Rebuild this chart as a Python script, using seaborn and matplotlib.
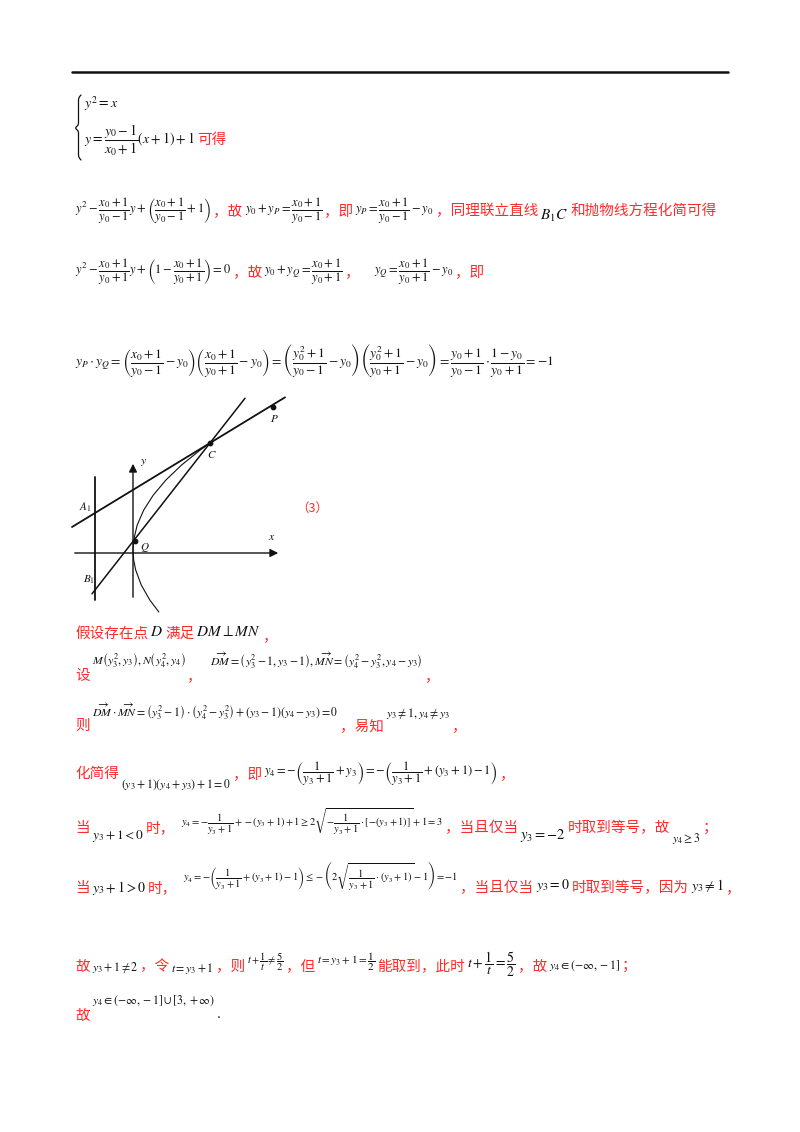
import matplotlib
matplotlib.use("Agg")
import matplotlib.pyplot as plt
import seaborn as sns
import numpy as np
import pandas as pd

sns.set_theme(style="white")
plt.rcParams['font.family'] = ['Noto Sans CJK SC', 'DejaVu Sans']
plt.rcParams['mathtext.fontset'] = 'stix'

RED = '#ff2a2a'
BLK = '#111111'

# diagram points (page pixel coordinates)
pt_names = ['A_1', 'B_1', 'Q', 'C', 'P']
pt_x = [95, 95, 135, 210, 273]
pt_y = [513, 590, 541, 443, 407]
par_y = [612, 600, 585, 570, 560, 550, 540, 525, 510, 495, 480, 465, 450, 443]

fig = plt.figure(figsize=(8, 11.32), dpi=100)
ax = fig.add_axes([0, 0, 1, 1])
ax.set_xlim(0, 800)
ax.set_ylim(1132, 0)
ax.axis('off')
renderer = fig.canvas.get_renderer()

ax.plot([72, 728], [72, 72], color=BLK, lw=1.8)

CS = 10.5


def put(x, y, s, kind, size):
    if kind == 'm':
        t = ax.text(x, y, s, color=BLK, fontsize=size, ha='left', va='center',
                    fontfamily='serif')
    else:
        t = ax.text(x, y, s, color=RED, fontsize=size, ha='left', va='center')
    return t


def line(x0, y0, segs):
    x = x0
    for seg in segs:
        kind, s = seg[0], seg[1]
        dy = seg[2] if len(seg) > 2 else 0
        size = seg[3] if len(seg) > 3 else (9 if kind == 'm' else CS)
        gap = seg[4] if len(seg) > 4 else 2
        t = put(x, y0 + dy, s, kind, size)
        bb = t.get_window_extent(renderer)
        x = x + bb.width + gap


# block 1: left brace drawn as a smooth path
tt = np.linspace(0, 1, 60)
by = 95 + 65 * tt
bx = 78.5 - 1.8 * np.exp(-((by - 128) / 2.2) ** 2) * 1.6
bx = np.where(by < 128, bx, bx)
end_top = np.clip((100 - by) / 5, 0, 1)
end_bot = np.clip((by - 155) / 5, 0, 1)
bx = bx + 2.5 * end_top ** 2 + 2.5 * end_bot ** 2
ax.plot(bx, by, color=BLK, lw=0.9)
line(84, 104, [('m', r'$y^2=x$', 0, 10)])
line(84, 140, [('m', r'$y=\dfrac{y_0-1}{x_0+1}\left(x+1\right)+1$', 0, 10), ('c', '可得')])

line(75, 211, [('m', r'$y^2-\dfrac{x_0+1}{y_0-1}y+\left(\dfrac{x_0+1}{y_0-1}+1\right)$'),
               ('c', '，故'), ('m', r'$y_0+y_P=\dfrac{x_0+1}{y_0-1}$'),
               ('c', '，即'), ('m', r'$y_P=\dfrac{x_0+1}{y_0-1}-y_0$'),
               ('c', '，同理联立直线'), ('m', r'$B_1C$', 5, 11), ('c', '和抛物线方程化简可得')])

line(75, 272, [('m', r'$y^2-\dfrac{x_0+1}{y_0+1}y+\left(1-\dfrac{x_0+1}{y_0+1}\right)=0$'),
               ('c', '，故'), ('m', r'$y_0+y_Q=\dfrac{x_0+1}{y_0+1}$'),
               ('c', '，', 0, CS, 14), ('m', r'$y_Q=\dfrac{x_0+1}{y_0+1}-y_0$'),
               ('c', '，即')])

line(75, 361, [('m', r'$y_P\cdot y_Q=\left(\dfrac{x_0+1}{y_0-1}-y_0\right)\left(\dfrac{x_0+1}{y_0+1}-y_0\right)'
                     r'=\left(\dfrac{y_0^2+1}{y_0-1}-y_0\right)\left(\dfrac{y_0^2+1}{y_0+1}-y_0\right)'
                     r'=\dfrac{y_0+1}{y_0-1}\cdot\dfrac{1-y_0}{y_0+1}=-1$', 0, 9.7)])

# diagram
k = 77 / 107 ** 2
py = np.array(par_y, dtype=float)
df = pd.DataFrame({'x': 133 + k * (550 - py) ** 2, 'y': py})
sns.lineplot(data=df, x='x', y='y', ax=ax, sort=False, color=BLK, lw=0.8, estimator=None)
sA = (pt_y[3] - pt_y[0]) / (pt_x[3] - pt_x[0])
ax.plot([72, 285], [pt_y[0] + sA * (72 - pt_x[0]), pt_y[0] + sA * (285 - pt_x[0])], color=BLK, lw=1.3)
sB = (pt_y[3] - pt_y[1]) / (pt_x[3] - pt_x[1])
ax.plot([92, 245], [pt_y[1] + sB * (92 - pt_x[1]), pt_y[1] + sB * (245 - pt_x[1])], color=BLK, lw=1.1)
ax.plot([95, 95], [477, 600], color=BLK, lw=1.3)
ax.annotate('', xy=(133, 461), xytext=(133, 600),
            arrowprops=dict(arrowstyle='-|>', color=BLK, lw=1.0, mutation_scale=12))
ax.annotate('', xy=(281, 553), xytext=(72, 553),
            arrowprops=dict(arrowstyle='-|>', color=BLK, lw=1.0, mutation_scale=12))
ax.scatter([pt_x[2], pt_x[3], pt_x[4]], [pt_y[2], pt_y[3], pt_y[4]], s=10, color=BLK, zorder=5)
lab_off = {'A_1': (-16, -6), 'B_1': (-12, -10), 'Q': (5, 6), 'C': (-3, 12), 'P': (-3, 12)}
for n, x, y in zip(pt_names, pt_x, pt_y):
    dx, dy = lab_off[n]
    put(x + dx, y + dy, r'$\mathbf{\mathit{%s}}$' % n, 'm', 8)
put(140, 462, r'$\mathbf{\mathit{y}}$', 'm', 8.5)
put(268, 537, r'$\mathbf{\mathit{x}}$', 'm', 8.5)
put(296, 508, '（3）', 'c', 9)

# part (3)
line(75, 634, [('c', '假设存在点'), ('m', r'$D$', -2, 11), ('c', '满足'),
               ('m', r'$DM\perp MN$', -2, 11), ('c', '，', 2)])

line(75, 676, [('c', '设'), ('m', r'$M\left(y_3^2,y_3\right),N\left(y_4^2,y_4\right)$', -15, 8.5),
               ('c', '，', 0, CS, 8),
               ('m', r'$\overrightarrow{DM}=\left(y_3^2-1,y_3-1\right),\overrightarrow{MN}=\left(y_4^2-y_3^2,y_4-y_3\right)$', -15, 8.5),
               ('c', '，')])

line(75, 726, [('c', '则'),
               ('m', r'$\overrightarrow{DM}\cdot\overrightarrow{MN}=\left(y_3^2-1\right)\cdot\left(y_4^2-y_3^2\right)+\left(y_3-1\right)\left(y_4-y_3\right)=0$', -14, 8.5),
               ('c', '，易知'), ('m', r'$y_3\neq 1,y_4\neq y_3$', -12, 8.5), ('c', '，')])

line(75, 774, [('c', '化简得'), ('m', r'$\left(y_3+1\right)\left(y_4+y_3\right)+1=0$', 11, 8.5),
               ('c', '，即'),
               ('m', r'$y_4=-\left(\dfrac{1}{y_3+1}+y_3\right)=-\left(\dfrac{1}{y_3+1}+\left(y_3+1\right)-1\right)$', 0, 9),
               ('c', '，')])

line(75, 828, [('c', '当'), ('m', r'$y_3+1<0$', 8, 9.5), ('c', '时，', 0, CS, 6),
               ('m', r'$y_4=-\dfrac{1}{y_3+1}+-\left(y_3+1\right)+1\geq 2\sqrt{-\dfrac{1}{y_3+1}\cdot\left[-\left(y_3+1\right)\right]}+1=3$', -6, 7.5),
               ('c', '，当且仅当'), ('m', r'$y_3=-2$', 8, 10.5), ('c', '时取到等号，故'),
               ('m', r'$y_4\geq 3$', 10, 8.5), ('c', '；')])

line(75, 888, [('c', '当'), ('m', r'$y_3+1>0$', 0, 10), ('c', '时，', 0, CS, 6),
               ('m', r'$y_4=-\left(\dfrac{1}{y_3+1}+\left(y_3+1\right)-1\right)\leq-\left(2\sqrt{\dfrac{1}{y_3+1}\cdot\left(y_3+1\right)}-1\right)=-1$', -12, 7.5),
               ('c', '，当且仅当'), ('m', r'$y_3=0$', -2, 10), ('c', '时取到等号，因为'),
               ('m', r'$y_3\neq 1$', -2, 10), ('c', '，')])

line(75, 966, [('c', '故'), ('m', r'$y_3+1\neq 2$', 2, 8.5), ('c', '，令'),
               ('m', r'$t=y_3+1$', 2, 8.5), ('c', '，则'),
               ('m', r'$t+\dfrac{1}{t}\neq\dfrac{5}{2}$', -4, 7.5), ('c', '，但'),
               ('m', r'$t=y_3+1=\dfrac{1}{2}$', -4, 8), ('c', '能取到，此时'),
               ('m', r'$t+\dfrac{1}{t}=\dfrac{5}{2}$', -2, 10), ('c', '，故'),
               ('m', r'$y_4\in\left(-\infty,-1\right]$', 0, 8.5), ('c', '；')])

line(75, 1015, [('c', '故'), ('m', r'$y_4\in\left(-\infty,-1\right]\cup\left[3,+\infty\right)$', -14, 8.5),
                ('m', '.', 0, 9, 2)])

fig.savefig('out.png', dpi=100)
